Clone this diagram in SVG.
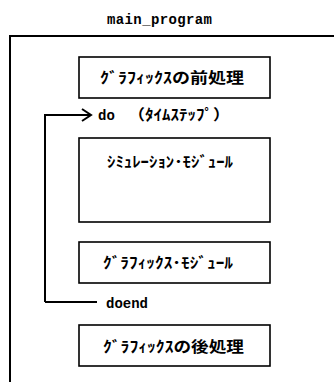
<svg xmlns="http://www.w3.org/2000/svg" width="334" height="382" viewBox="0 0 334 382">
<style>
.box{fill:#fff;stroke:#000;stroke-width:1.6}
.jp{font-family:"Liberation Sans","Noto Sans CJK JP",sans-serif;font-size:15px;font-weight:bold;fill:#000}
.mono{font-family:"Liberation Mono","DejaVu Sans Mono",monospace;font-size:14px;font-weight:bold;fill:#000}
.line{fill:none;stroke:#000;stroke-width:2}
</style>
<defs>
<marker id="arr" markerWidth="12" markerHeight="16" refX="10" refY="7" orient="auto" markerUnits="userSpaceOnUse">
<path d="M1,1 L10,7 L1,13" fill="none" stroke="#000" stroke-width="2"/>
</marker>
</defs>
<rect width="334" height="382" fill="#fff"/>
<g id="title"><text class="mono" x="107" y="24" textLength="105" lengthAdjust="spacing">main_program</text></g>
<g id="outer"><path class="line" d="M10,385 L10,36 L340,36"/></g>
<g id="connectors">
<path class="line" d="M45,302 L45,115 L91,115" marker-end="url(#arr)"/>
<path class="line" d="M45,302 L97,302"/>
</g>
<g id="pre"><rect class="box" x="79" y="57" width="191" height="41"/><text class="jp" x="100" y="83" textLength="144" lengthAdjust="spacingAndGlyphs">ｸﾞﾗﾌｨｯｸｽの前処理</text></g>
<g id="do"><text class="mono" x="98" y="120">do</text><text class="jp" x="128" y="120" textLength="102" lengthAdjust="spacingAndGlyphs">（ﾀｲﾑｽﾃｯﾌﾟ）</text></g>
<g id="sim"><rect class="box" x="79" y="138" width="191" height="84"/><text class="jp" x="107" y="167" textLength="126" lengthAdjust="spacingAndGlyphs">ｼﾐｭﾚｰｼｮﾝ･ﾓｼﾞｭｰﾙ</text></g>
<g id="gmod"><rect class="box" x="79" y="242" width="191" height="41"/><text class="jp" x="103" y="268" textLength="130" lengthAdjust="spacingAndGlyphs">ｸﾞﾗﾌｨｯｸｽ･ﾓｼﾞｭｰﾙ</text></g>
<g id="doend"><text class="mono" x="106" y="308">doend</text></g>
<g id="post"><rect class="box" x="79" y="325" width="191" height="41"/><text class="jp" x="103" y="352" textLength="141" lengthAdjust="spacingAndGlyphs">ｸﾞﾗﾌｨｯｸｽの後処理</text></g>
</svg>
